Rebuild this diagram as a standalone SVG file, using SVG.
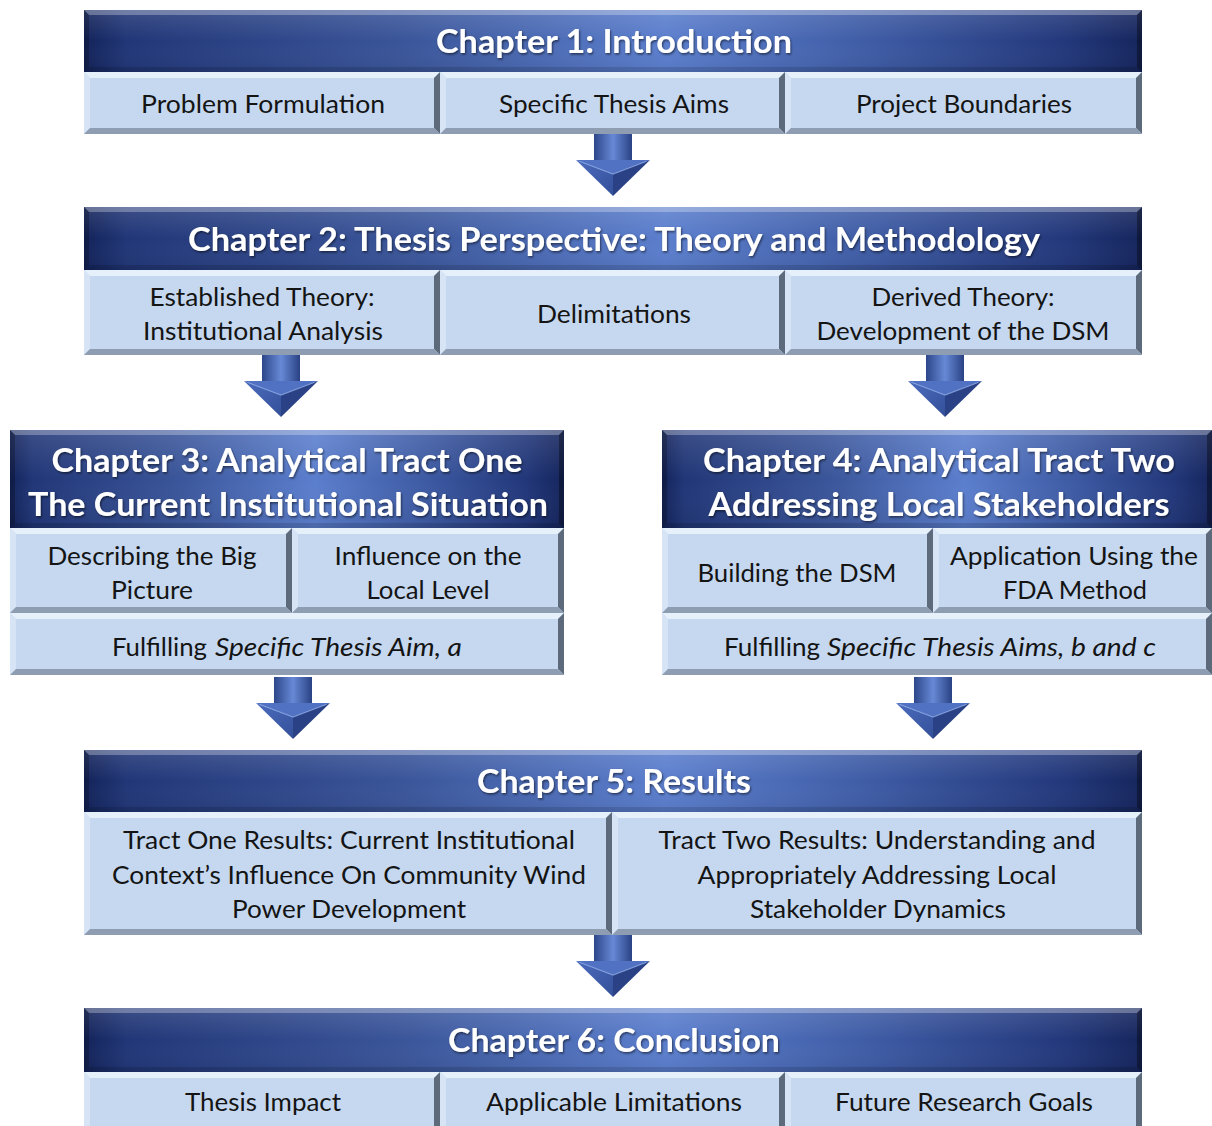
<svg xmlns="http://www.w3.org/2000/svg" xmlns:xlink="http://www.w3.org/1999/xlink" width="1212" height="1126" viewBox="0 0 1212 1126">
<defs>
<linearGradient id="hdrG" x1="0" y1="0" x2="1" y2="0">
<stop offset="0" stop-color="#13235a"/>
<stop offset="0.04" stop-color="#213677"/>
<stop offset="0.3" stop-color="#3a5599"/>
<stop offset="0.55" stop-color="#5b7ecd"/>
<stop offset="0.75" stop-color="#3d5aa3"/>
<stop offset="0.93" stop-color="#22377a"/>
<stop offset="1" stop-color="#15255d"/>
</linearGradient>
<linearGradient id="hdrV" x1="0" y1="0" x2="0" y2="1">
<stop offset="0" stop-color="#ffffff" stop-opacity="0.12"/>
<stop offset="0.5" stop-color="#ffffff" stop-opacity="0"/>
<stop offset="1" stop-color="#000000" stop-opacity="0.06"/>
</linearGradient>
<linearGradient id="shaftG" x1="0" y1="0" x2="1" y2="0">
<stop offset="0" stop-color="#2c4689"/>
<stop offset="0.5" stop-color="#6789d6"/>
<stop offset="1" stop-color="#2a4284"/>
</linearGradient>
<linearGradient id="headL" x1="0" y1="0" x2="1" y2="1">
<stop offset="0" stop-color="#4c6cbd"/>
<stop offset="1" stop-color="#33509a"/>
</linearGradient>
<filter id="tsh" x="-5%" y="-20%" width="110%" height="150%">
<feDropShadow dx="1" dy="1.5" stdDeviation="1" flood-color="#000" flood-opacity="0.55"/>
</filter>
<g id="arrowShape">
<rect x="-19" y="0" width="38" height="27" fill="url(#shaftG)"/>
<polygon points="-37,26 37,26 0,40" fill="#5172c3"/>
<polygon points="-37,26 0,40 0,62" fill="url(#headL)"/>
<polygon points="37,26 0,40 0,62" fill="#2a4285"/>
<polyline points="-33,27.5 0,40 33,27.5" fill="none" stroke="#8aa6e6" stroke-width="1.2" stroke-opacity="0.7"/>
</g>
<style>
.hf{fill:url(#hdrG)}
.hv{fill:url(#hdrV)}
.ht{fill:#ffffff;fill-opacity:0.28}
.hl{fill:#000000;fill-opacity:0.22}
.hr{fill:#000000;fill-opacity:0.35}
.hb{fill:#000000;fill-opacity:0.12}
.cf{fill:#c5d8f0}
.ct{fill:#e6f0fb}
.cl{fill:#d6e4f6}
.cr{fill:#5d6a7c}
.cb{fill:#8e9db2}
.htx{font-family:"Lato","Liberation Sans",sans-serif;font-weight:bold;font-size:32px;fill:#ffffff;text-anchor:middle;filter:url(#tsh)}
.tx{font-family:"Lato","Liberation Sans",sans-serif;font-size:25px;fill:#141414;text-anchor:middle}
.txs{font-family:"Lato","Liberation Sans",sans-serif;font-size:25px;fill:#141414;text-anchor:start}
.it{font-style:italic}
</style>
</defs>
<rect width="1212" height="1126" fill="#ffffff"/>

<g id="ch1">
<g id="ch1-header">
<rect class="hf" x="84" y="10" width="1058" height="62"/>
<rect class="hv" x="84" y="10" width="1058" height="62"/>
<path class="ht" d="M84,10H1142L1137,15H89Z"/><path class="hl" d="M84,10L89,15V67L84,72Z"/><path class="hr" d="M1142,10V72L1137,67V15Z"/><path class="hb" d="M84,72H1142L1137,67H89Z"/>
<text class="htx" x="614" y="53" textLength="356" lengthAdjust="spacingAndGlyphs">Chapter 1: Introduction</text>
</g>
<g id="ch1-problem">
<rect class="cf" x="84" y="72" width="356" height="62"/>
<path class="ct" d="M84,72H440L434,78H90Z"/><path class="cl" d="M84,72L90,78V128L84,134Z"/><path class="cr" d="M440,72V134L434,128V78Z"/><path class="cb" d="M84,134H440L434,128H90Z"/>
<text class="tx" x="263" y="113" textLength="244" lengthAdjust="spacingAndGlyphs">Problem Formulation</text>
</g>
<g id="ch1-aims">
<rect class="cf" x="440" y="72" width="345" height="62"/>
<path class="ct" d="M440,72H785L779,78H446Z"/><path class="cl" d="M440,72L446,78V128L440,134Z"/><path class="cr" d="M785,72V134L779,128V78Z"/><path class="cb" d="M440,134H785L779,128H446Z"/>
<text class="tx" x="614" y="113" textLength="230" lengthAdjust="spacingAndGlyphs">Specific Thesis Aims</text>
</g>
<g id="ch1-boundaries">
<rect class="cf" x="785" y="72" width="357" height="62"/>
<path class="ct" d="M785,72H1142L1136,78H791Z"/><path class="cl" d="M785,72L791,78V128L785,134Z"/><path class="cr" d="M1142,72V134L1136,128V78Z"/><path class="cb" d="M785,134H1142L1136,128H791Z"/>
<text class="tx" x="964" y="113" textLength="216" lengthAdjust="spacingAndGlyphs">Project Boundaries</text>
</g>
</g>

<g id="ch2">
<g id="ch2-header">
<rect class="hf" x="84" y="207" width="1058" height="63"/>
<rect class="hv" x="84" y="207" width="1058" height="63"/>
<path class="ht" d="M84,207H1142L1137,212H89Z"/><path class="hl" d="M84,207L89,212V265L84,270Z"/><path class="hr" d="M1142,207V270L1137,265V212Z"/><path class="hb" d="M84,270H1142L1137,265H89Z"/>
<text class="htx" x="614" y="251" textLength="852" lengthAdjust="spacingAndGlyphs">Chapter 2: Thesis Perspective: Theory and Methodology</text>
</g>
<g id="ch2-established">
<rect class="cf" x="84" y="270" width="356" height="85"/>
<path class="ct" d="M84,270H440L434,276H90Z"/><path class="cl" d="M84,270L90,276V349L84,355Z"/><path class="cr" d="M440,270V355L434,349V276Z"/><path class="cb" d="M84,355H440L434,349H90Z"/>
<text class="tx" x="262" y="306" textLength="225" lengthAdjust="spacingAndGlyphs">Established Theory:</text>
<text class="tx" x="263" y="340" textLength="240" lengthAdjust="spacingAndGlyphs">Institutional Analysis</text>
</g>
<g id="ch2-delimitations">
<rect class="cf" x="440" y="270" width="345" height="85"/>
<path class="ct" d="M440,270H785L779,276H446Z"/><path class="cl" d="M440,270L446,276V349L440,355Z"/><path class="cr" d="M785,270V355L779,349V276Z"/><path class="cb" d="M440,355H785L779,349H446Z"/>
<text class="tx" x="614" y="323" textLength="154" lengthAdjust="spacingAndGlyphs">Delimitations</text>
</g>
<g id="ch2-derived">
<rect class="cf" x="785" y="270" width="357" height="85"/>
<path class="ct" d="M785,270H1142L1136,276H791Z"/><path class="cl" d="M785,270L791,276V349L785,355Z"/><path class="cr" d="M1142,270V355L1136,349V276Z"/><path class="cb" d="M785,355H1142L1136,349H791Z"/>
<text class="tx" x="963" y="306" textLength="183" lengthAdjust="spacingAndGlyphs">Derived Theory:</text>
<text class="tx" x="963" y="340" textLength="293" lengthAdjust="spacingAndGlyphs">Development of the DSM</text>
</g>
</g>

<g id="ch3">
<g id="ch3-header">
<rect class="hf" x="10" y="430" width="554" height="98"/>
<rect class="hv" x="10" y="430" width="554" height="98"/>
<path class="ht" d="M10,430H564L559,435H15Z"/><path class="hl" d="M10,430L15,435V523L10,528Z"/><path class="hr" d="M564,430V528L559,523V435Z"/><path class="hb" d="M10,528H564L559,523H15Z"/>
<text class="htx" x="287" y="472" textLength="471" lengthAdjust="spacingAndGlyphs">Chapter 3: Analytical Tract One</text>
<text class="htx" x="288" y="516" textLength="520" lengthAdjust="spacingAndGlyphs">The Current Institutional Situation</text>
</g>
<g id="ch3-bigpicture">
<rect class="cf" x="10" y="528" width="282" height="85"/>
<path class="ct" d="M10,528H292L286,534H16Z"/><path class="cl" d="M10,528L16,534V607L10,613Z"/><path class="cr" d="M292,528V613L286,607V534Z"/><path class="cb" d="M10,613H292L286,607H16Z"/>
<text class="tx" x="152" y="565" textLength="209" lengthAdjust="spacingAndGlyphs">Describing the Big</text>
<text class="tx" x="152" y="599" textLength="82" lengthAdjust="spacingAndGlyphs">Picture</text>
</g>
<g id="ch3-influence">
<rect class="cf" x="292" y="528" width="272" height="85"/>
<path class="ct" d="M292,528H564L558,534H298Z"/><path class="cl" d="M292,528L298,534V607L292,613Z"/><path class="cr" d="M564,528V613L558,607V534Z"/><path class="cb" d="M292,613H564L558,607H298Z"/>
<text class="tx" x="428" y="565" textLength="187" lengthAdjust="spacingAndGlyphs">Influence on the</text>
<text class="tx" x="428" y="599" textLength="123" lengthAdjust="spacingAndGlyphs">Local Level</text>
</g>
<g id="ch3-fulfilling">
<rect class="cf" x="10" y="613" width="554" height="62"/>
<path class="ct" d="M10,613H564L558,619H16Z"/><path class="cl" d="M10,613L16,619V669L10,675Z"/><path class="cr" d="M564,613V675L558,669V619Z"/><path class="cb" d="M10,675H564L558,669H16Z"/>
<text class="txs" x="112" y="656" textLength="95" lengthAdjust="spacingAndGlyphs">Fulfilling</text>
<text class="txs it" x="215" y="656" textLength="247" lengthAdjust="spacingAndGlyphs">Specific Thesis Aim, a</text>
</g>
</g>

<g id="ch4">
<g id="ch4-header">
<rect class="hf" x="662" y="430" width="550" height="98"/>
<rect class="hv" x="662" y="430" width="550" height="98"/>
<path class="ht" d="M662,430H1212L1207,435H667Z"/><path class="hl" d="M662,430L667,435V523L662,528Z"/><path class="hr" d="M1212,430V528L1207,523V435Z"/><path class="hb" d="M662,528H1212L1207,523H667Z"/>
<text class="htx" x="939" y="472" textLength="472" lengthAdjust="spacingAndGlyphs">Chapter 4: Analytical Tract Two</text>
<text class="htx" x="939" y="516" textLength="461" lengthAdjust="spacingAndGlyphs">Addressing Local Stakeholders</text>
</g>
<g id="ch4-building">
<rect class="cf" x="662" y="528" width="271" height="85"/>
<path class="ct" d="M662,528H933L927,534H668Z"/><path class="cl" d="M662,528L668,534V607L662,613Z"/><path class="cr" d="M933,528V613L927,607V534Z"/><path class="cb" d="M662,613H933L927,607H668Z"/>
<text class="tx" x="797" y="582" textLength="199" lengthAdjust="spacingAndGlyphs">Building the DSM</text>
</g>
<g id="ch4-application">
<rect class="cf" x="933" y="528" width="279" height="85"/>
<path class="ct" d="M933,528H1212L1206,534H939Z"/><path class="cl" d="M933,528L939,534V607L933,613Z"/><path class="cr" d="M1212,528V613L1206,607V534Z"/><path class="cb" d="M933,613H1212L1206,607H939Z"/>
<text class="tx" x="1074" y="565" textLength="248" lengthAdjust="spacingAndGlyphs">Application Using the</text>
<text class="tx" x="1075" y="599" textLength="144" lengthAdjust="spacingAndGlyphs">FDA Method</text>
</g>
<g id="ch4-fulfilling">
<rect class="cf" x="662" y="613" width="550" height="62"/>
<path class="ct" d="M662,613H1212L1206,619H668Z"/><path class="cl" d="M662,613L668,619V669L662,675Z"/><path class="cr" d="M1212,613V675L1206,669V619Z"/><path class="cb" d="M662,675H1212L1206,669H668Z"/>
<text class="txs" x="724" y="656" textLength="96" lengthAdjust="spacingAndGlyphs">Fulfilling</text>
<text class="txs it" x="827" y="656" textLength="329" lengthAdjust="spacingAndGlyphs">Specific Thesis Aims, b and c</text>
</g>
</g>

<g id="ch5">
<g id="ch5-header">
<rect class="hf" x="84" y="750" width="1058" height="62"/>
<rect class="hv" x="84" y="750" width="1058" height="62"/>
<path class="ht" d="M84,750H1142L1137,755H89Z"/><path class="hl" d="M84,750L89,755V807L84,812Z"/><path class="hr" d="M1142,750V812L1137,807V755Z"/><path class="hb" d="M84,812H1142L1137,807H89Z"/>
<text class="htx" x="614" y="793" textLength="274" lengthAdjust="spacingAndGlyphs">Chapter 5: Results</text>
</g>
<g id="ch5-tractone">
<rect class="cf" x="84" y="812" width="528" height="123"/>
<path class="ct" d="M84,812H612L606,818H90Z"/><path class="cl" d="M84,812L90,818V929L84,935Z"/><path class="cr" d="M612,812V935L606,929V818Z"/><path class="cb" d="M84,935H612L606,929H90Z"/>
<text class="tx" x="349" y="849" textLength="452" lengthAdjust="spacingAndGlyphs">Tract One Results: Current Institutional</text>
<text class="tx" x="349" y="884" textLength="474" lengthAdjust="spacingAndGlyphs">Context’s Influence On Community Wind</text>
<text class="tx" x="349" y="918" textLength="234" lengthAdjust="spacingAndGlyphs">Power Development</text>
</g>
<g id="ch5-tracttwo">
<rect class="cf" x="612" y="812" width="530" height="123"/>
<path class="ct" d="M612,812H1142L1136,818H618Z"/><path class="cl" d="M612,812L618,818V929L612,935Z"/><path class="cr" d="M1142,812V935L1136,929V818Z"/><path class="cb" d="M612,935H1142L1136,929H618Z"/>
<text class="tx" x="877" y="849" textLength="437" lengthAdjust="spacingAndGlyphs">Tract Two Results: Understanding and</text>
<text class="tx" x="877" y="884" textLength="359" lengthAdjust="spacingAndGlyphs">Appropriately Addressing Local</text>
<text class="tx" x="878" y="918" textLength="256" lengthAdjust="spacingAndGlyphs">Stakeholder Dynamics</text>
</g>
</g>

<g id="ch6">
<g id="ch6-header">
<rect class="hf" x="84" y="1008" width="1058" height="64"/>
<rect class="hv" x="84" y="1008" width="1058" height="64"/>
<path class="ht" d="M84,1008H1142L1137,1013H89Z"/><path class="hl" d="M84,1008L89,1013V1067L84,1072Z"/><path class="hr" d="M1142,1008V1072L1137,1067V1013Z"/><path class="hb" d="M84,1072H1142L1137,1067H89Z"/>
<text class="htx" x="614" y="1052" textLength="332" lengthAdjust="spacingAndGlyphs">Chapter 6: Conclusion</text>
</g>
<g id="ch6-impact">
<rect class="cf" x="84" y="1072" width="356" height="60"/>
<path class="ct" d="M84,1072H440L434,1078H90Z"/><path class="cl" d="M84,1072L90,1078V1126L84,1132Z"/><path class="cr" d="M440,1072V1132L434,1126V1078Z"/>
<text class="tx" x="263" y="1111" textLength="156" lengthAdjust="spacingAndGlyphs">Thesis Impact</text>
</g>
<g id="ch6-limitations">
<rect class="cf" x="440" y="1072" width="345" height="60"/>
<path class="ct" d="M440,1072H785L779,1078H446Z"/><path class="cl" d="M440,1072L446,1078V1126L440,1132Z"/><path class="cr" d="M785,1072V1132L779,1126V1078Z"/>
<text class="tx" x="614" y="1111" textLength="256" lengthAdjust="spacingAndGlyphs">Applicable Limitations</text>
</g>
<g id="ch6-future">
<rect class="cf" x="785" y="1072" width="357" height="60"/>
<path class="ct" d="M785,1072H1142L1136,1078H791Z"/><path class="cl" d="M785,1072L791,1078V1126L785,1132Z"/><path class="cr" d="M1142,1072V1132L1136,1126V1078Z"/>
<text class="tx" x="964" y="1111" textLength="258" lengthAdjust="spacingAndGlyphs">Future Research Goals</text>
</g>
</g>

<g id="connectors">
<use xlink:href="#arrowShape" href="#arrowShape" transform="translate(613,134)"/>
<use xlink:href="#arrowShape" href="#arrowShape" transform="translate(281,355)"/>
<use xlink:href="#arrowShape" href="#arrowShape" transform="translate(945,355)"/>
<use xlink:href="#arrowShape" href="#arrowShape" transform="translate(293,677)"/>
<use xlink:href="#arrowShape" href="#arrowShape" transform="translate(933,677)"/>
<use xlink:href="#arrowShape" href="#arrowShape" transform="translate(613,935)"/>
</g>
</svg>
